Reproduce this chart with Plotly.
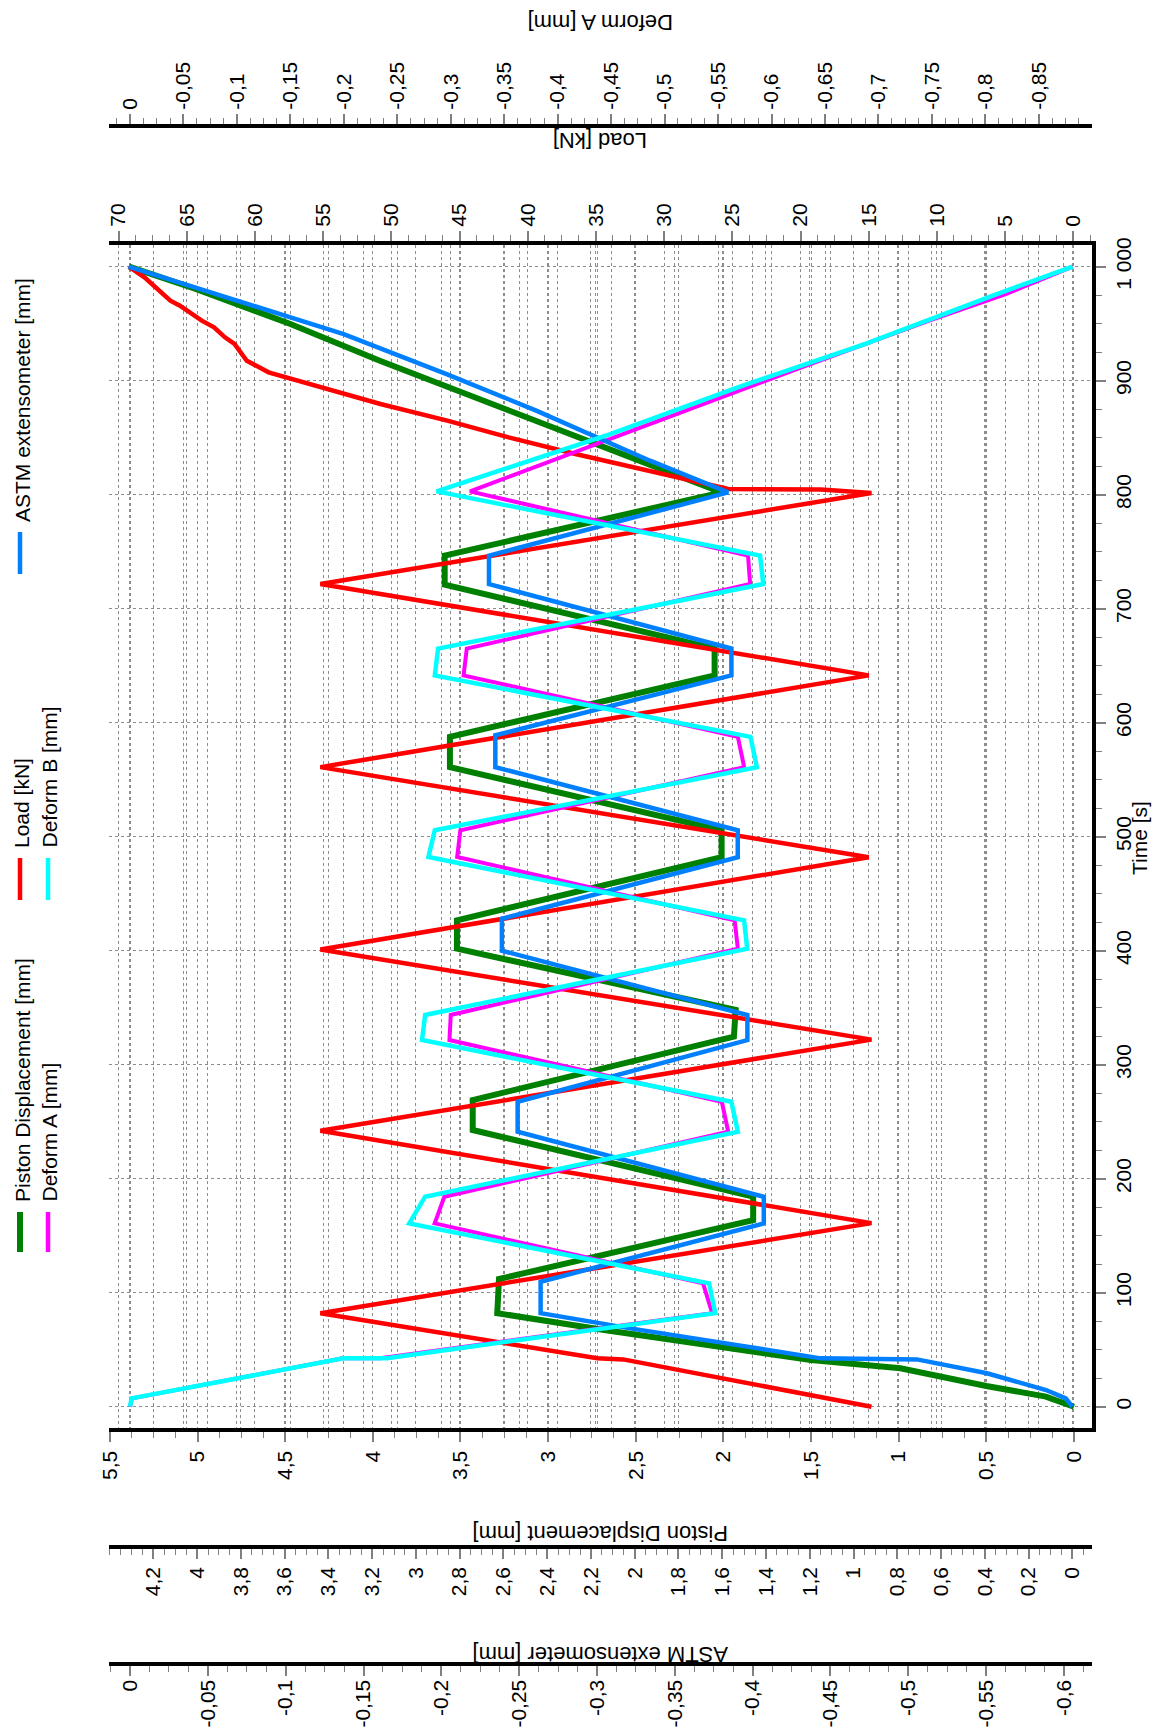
import plotly.graph_objects as go

# ---------------- data ----------------
time_piston = [0, 8.8, 18.2, 27.8, 33.7, 40.9, 52.6, 67.3, 82, 112, 163.7, 184.2, 242.7, 269,
               324.6, 348, 401.8, 426.6, 482, 505.6, 561, 587.6, 641.5, 665, 721, 746.5, 802,
               844.4, 891.2, 917.5, 949.7, 980.4, 1000]
piston = [0, 0.16, 0.50, 0.83, 0.99, 1.50, 2.05, 2.68, 3.29, 3.28, 1.83, 1.83, 3.43, 3.43,
          1.94, 1.93, 3.52, 3.52, 2.01, 2.01, 3.56, 3.56, 2.05, 2.05, 3.59, 3.59, 2.01,
          2.72, 3.52, 3.96, 4.47, 5.01, 5.39]

time_load = [0, 41.5, 42.5, 82, 161, 242, 322, 401, 482, 561, 641.5, 721.6, 801.5, 804.5, 805,
             835.7, 850.3, 865, 879.5, 894.2, 901.5, 907.3, 917.5, 923.4, 932.2, 938, 946.8,
             952.6, 965.8, 970.2, 990.6, 1000]
load = [14.8, 33.0, 34.9, 55.2, 14.8, 55.2, 14.8, 55.2, 15.0, 55.2, 15.0, 55.2, 14.8, 18.5, 25.3,
        36.5, 41.4, 45.9, 50.8, 55.0, 57.3, 59.0, 60.6, 61.0, 61.5, 62.2, 63.0,
        63.9, 65.5, 66.2, 68.1, 69.25]

time_astm = [0, 7.3, 14.6, 29.3, 41.5, 42.4, 54, 68.7, 82, 109.6, 160.8, 184.2, 241.2, 267.5,
             321.6, 343.6, 400, 428, 482, 505.6, 561, 588.9, 641.5, 665, 721.6, 746.5, 802,
             829.8, 873.7, 905.8, 940.9, 970.2, 1000]
astm = [0, 0.03, 0.12, 0.39, 0.71, 1.15, 1.53, 2.02, 2.43, 2.43, 1.41, 1.41, 2.535, 2.535,
        1.485, 1.485, 2.607, 2.607, 1.529, 1.529, 2.637, 2.637, 1.558, 1.558, 2.666, 2.666, 1.573,
        1.93, 2.45, 2.86, 3.33, 3.82, 4.313]

time_defa = [0, 7.3, 42.4, 42.6, 82, 108.2, 160.8, 184.2, 241.2, 267.5, 321.6, 343.6, 401.8,
             426.6, 482.2, 505.6, 561, 587.6, 641.5, 665, 721.6, 746.5, 802.9, 862, 911.7,
             952.6, 976, 1000]
deform_a = [0, -0.002, -0.199, -0.234, -0.5445, -0.536, -0.285, -0.294, -0.5595, -0.5535,
            -0.2988, -0.300, -0.5685, -0.5655, -0.306, -0.309, -0.5744, -0.5685, -0.312, -0.315,
            -0.580, -0.578, -0.318, -0.485, -0.628, -0.7474, -0.819, -0.8816]

time_defb = [0, 7.3, 42.4, 42.6, 82, 108.2, 160.8, 184.2, 241.2, 267.5, 321.6, 343.6, 401.8,
             426.6, 482.2, 505.6, 561, 587.6, 641.5, 665, 721.6, 746.5, 802.9, 853.2, 894.2,
             932.2, 974.6, 1000]
deform_b = [0, -0.001, -0.137, -0.165, -0.376, -0.372, -0.1794, -0.1896, -0.3905, -0.3863,
            -0.1876, -0.1896, -0.3965, -0.3945, -0.1917, -0.1958, -0.4027, -0.3986, -0.1958,
            -0.1979, -0.4068, -0.4048, -0.197, -0.3085, -0.3905, -0.4724, -0.5543, -0.6055]

# ---------------- tick labels ----------------
piston_ticks = [0, 0.5, 1, 1.5, 2, 2.5, 3, 3.5, 4, 4.5, 5, 5.5]
piston_labels = ["0", "0,5", "1", "1,5", "2", "2,5", "3", "3,5", "4", "4,5", "5", "5,5"]
load_ticks = [0, 5, 10, 15, 20, 25, 30, 35, 40, 45, 50, 55, 60, 65, 70]
load_labels = ["0", "5", "10", "15", "20", "25", "30", "35", "40", "45", "50", "55", "60", "65", "70"]
defa_ticks = [0, -0.05, -0.1, -0.15, -0.2, -0.25, -0.3, -0.35, -0.4, -0.45, -0.5, -0.55, -0.6,
              -0.65, -0.7, -0.75, -0.8, -0.85, -0.9]
defa_labels = ["0", "-0,05", "-0,1", "-0,15", "-0,2", "-0,25", "-0,3", "-0,35", "-0,4", "-0,45",
               "-0,5", "-0,55", "-0,6", "-0,65", "-0,7", "-0,75", "-0,8", "-0,85", "-0,9"]
astm_ticks = [0, 0.2, 0.4, 0.6, 0.8, 1, 1.2, 1.4, 1.6, 1.8, 2, 2.2, 2.4, 2.6, 2.8, 3, 3.2, 3.4,
              3.6, 3.8, 4, 4.2]
astm_labels = ["0", "0,2", "0,4", "0,6", "0,8", "1", "1,2", "1,4", "1,6", "1,8", "2", "2,2", "2,4",
               "2,6", "2,8", "3", "3,2", "3,4", "3,6", "3,8", "4", "4,2"]
defb_ticks = [0, -0.05, -0.1, -0.15, -0.2, -0.25, -0.3, -0.35, -0.4, -0.45, -0.5, -0.55, -0.6]
defb_labels = ["0", "-0,05", "-0,1", "-0,15", "-0,2", "-0,25", "-0,3", "-0,35", "-0,4", "-0,45",
               "-0,5", "-0,55", "-0,6"]

series_names = ["Piston Displacement [mm]", "Load [kN]", "ASTM extensometer [mm]",
                "Deform A [mm]", "Deform B [mm]"]
series_colors = ["#008000", "#FF0000", "#0080FF", "#FF00FF", "#00FFFF"]

# ---------------- layout helpers ----------------
# the page body adds an 8 px offset; design in reference-pixel coordinates
FONT = "Liberation Sans, Arial, sans-serif"
OFF = 8
W, H = 1161 - OFF, 1731 - OFF
PLOT_L, PLOT_R = 109, 1092          # plot area edges (reference px)
LM = PLOT_L - OFF
RM = W - (PLOT_R - OFF)
PW = PLOT_R - PLOT_L


def px(X):
    return (X - PLOT_L) / PW


def py(Y):
    return (H - (Y - OFF)) / H


GRID = dict(showgrid=True, gridcolor="#8c8c8c", gridwidth=1, griddash="dot", zeroline=False)
TICKS = dict(ticks="outside", ticklen=10, tickwidth=1.5, tickcolor="#808080",
             tickangle=-90, tickfont=dict(family=FONT, size=21, color="black"))
LINE = dict(showline=True, linecolor="black", linewidth=4)


def minor(d):
    return dict(tickmode="linear", tick0=0, dtick=d, ticks="outside", ticklen=6,
                tickwidth=1.2, tickcolor="#808080", showgrid=False)


fig = go.Figure()

fig.add_trace(go.Scatter(x=piston, y=time_piston, xaxis="x", yaxis="y", mode="lines",
                         line=dict(color=series_colors[0], width=6), name=series_names[0]))
fig.add_trace(go.Scatter(x=deform_a, y=time_defa, xaxis="x3", yaxis="y", mode="lines",
                         line=dict(color=series_colors[3], width=4), name=series_names[3]))
fig.add_trace(go.Scatter(x=load, y=time_load, xaxis="x2", yaxis="y", mode="lines",
                         line=dict(color=series_colors[1], width=4.5), name=series_names[1]))
fig.add_trace(go.Scatter(x=deform_b, y=time_defb, xaxis="x5", yaxis="y", mode="lines",
                         line=dict(color=series_colors[4], width=4.5), name=series_names[4]))
fig.add_trace(go.Scatter(x=astm, y=time_astm, xaxis="x4", yaxis="y", mode="lines",
                         line=dict(color=series_colors[2], width=4.5), name=series_names[2]))

layout = dict(
    width=W, height=H, showlegend=False,
    paper_bgcolor="white", plot_bgcolor="white",
    margin=dict(l=LM, r=RM, t=0, b=0, autoexpand=False),
    font=dict(family=FONT, size=20, color="black"),
    separators=", ",
    yaxis=dict(domain=[py(1428.3), py(245)], range=[-18.95, 1019.0], side="right",
               tickmode="linear", tick0=0, dtick=100, separatethousands=True,
               minor=minor(25), **GRID, **TICKS, **LINE),
    xaxis=dict(range=[5.505, -0.103], anchor="y", side="bottom",
               tickmode="array", tickvals=piston_ticks, ticktext=piston_labels,
               minor=minor(0.125), **GRID, **TICKS, **LINE),
    xaxis2=dict(range=[70.70, -1.37], anchor="y", side="top", overlaying="x",
                tickmode="array", tickvals=load_ticks, ticktext=load_labels,
                minor=minor(1.25), **GRID, **TICKS, **LINE),
    xaxis3=dict(range=[0.0196, -0.8997], anchor="free", position=py(126), side="top",
                overlaying="x", tickmode="array", tickvals=defa_ticks, ticktext=defa_labels,
                minor=minor(0.0125), **GRID, **TICKS, **LINE),
    xaxis4=dict(range=[4.4026, -0.090], anchor="free", position=py(1546.7), side="bottom",
                overlaying="x", tickmode="array", tickvals=astm_ticks, ticktext=astm_labels,
                minor=minor(0.05), **GRID, **TICKS, **LINE),
    xaxis5=dict(range=[0.0135, -0.618], anchor="free", position=py(1664.3), side="bottom",
                overlaying="x", tickmode="array", tickvals=defb_ticks, ticktext=defb_labels,
                ticklabelstandoff=-5,
                minor=minor(0.0125), **GRID, **TICKS, **LINE),
)
fig.update_layout(**layout)

annotations = []
shapes = []
TITLE_FONT = dict(family=FONT, size=22, color="black")
cx = px((PLOT_L + PLOT_R) / 2)
for text, Y in [("Deform A [mm]", 22), ("Load [kN]", 140),
                ("Piston Displacement [mm]", 1534), ("ASTM extensometer [mm]", 1655)]:
    annotations.append(dict(text=text, x=cx, y=py(Y), xref="paper", yref="paper",
                            showarrow=False, textangle=180, xanchor="center", yanchor="middle",
                            font=TITLE_FONT))
annotations.append(dict(text="Time [s]", x=px(1139), y=py(838), xref="paper", yref="paper",
                        showarrow=False, textangle=-90, xanchor="center", yanchor="middle",
                        font=dict(family=FONT, size=21, color="black")))

# legend built from rotated text + line samples
legend_items = [  # (series index, marker X, text X, marker top Y, marker bottom Y)
    (0, 20, 22, 1212, 1252),
    (1, 20, 22, 858, 900),
    (2, 20, 22, 532, 574),
    (3, 48, 49, 1212, 1252),
    (4, 48, 49, 858, 900),
]
for idx, mx, tx, y0, y1 in legend_items:
    shapes.append(dict(type="line", xref="paper", yref="paper", x0=px(mx), x1=px(mx),
                       y0=py(y0), y1=py(y1),
                       line=dict(color=series_colors[idx], width=6 if idx == 0 else 4.5)))
    annotations.append(dict(text=series_names[idx], x=px(tx), y=py(y0 - 8), xref="paper",
                            yref="paper", showarrow=False, textangle=-90, xanchor="center",
                            yanchor="bottom", font=dict(family=FONT, size=21, color="black")))

fig.update_layout(annotations=annotations, shapes=shapes)
fig.write_html("out.html")
